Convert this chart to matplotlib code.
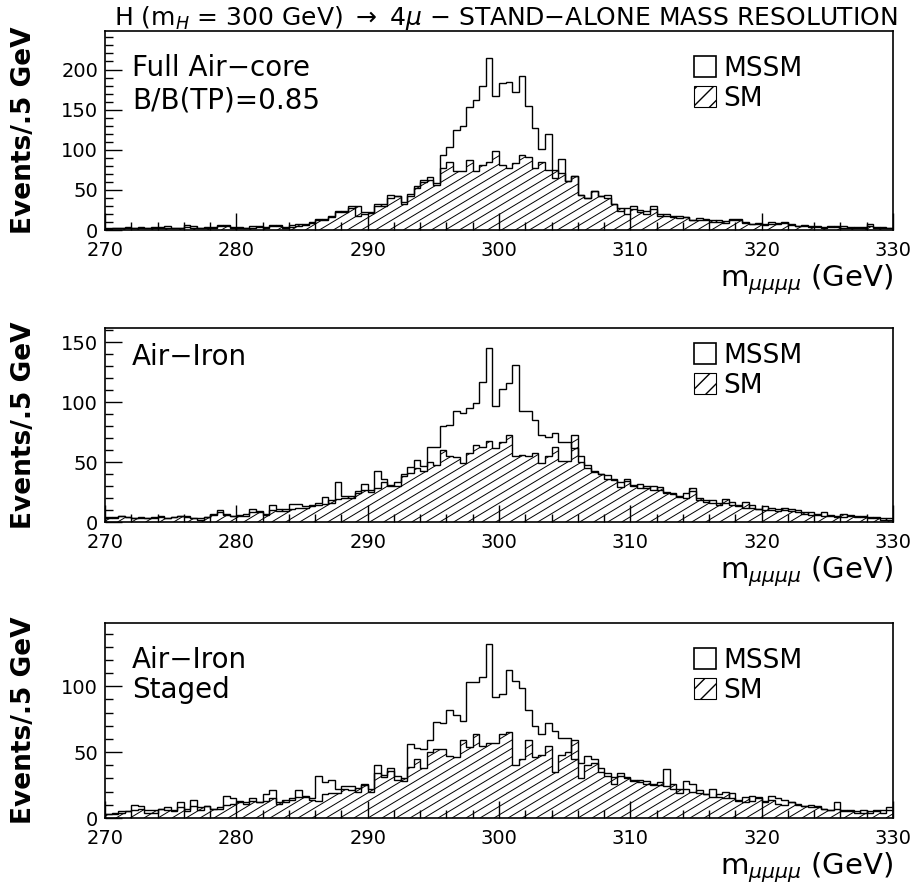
import numpy as np
import matplotlib
matplotlib.use("Agg")
import matplotlib.pyplot as plt
from matplotlib.patches import Patch
from matplotlib.collections import LineCollection
from matplotlib.ticker import MultipleLocator

# bin edges: 270-330 GeV, 0.5 GeV bins
edges = np.arange(270, 330.01, 0.5)

aircore_mssm = [2, 3, 2, 4, 3, 3, 2, 4, 3, 5, 2, 3, 6, 3, 2, 4, 3, 5, 6, 4, 2, 3, 5, 4, 3, 6, 5, 3, 4, 5,
                8, 10, 14, 13, 18, 24, 22, 30, 18, 20, 21, 32, 30, 44, 42, 35, 45, 52, 62, 66, 58,
                93, 103, 124, 129, 153, 162, 180, 214, 167, 183, 185, 172, 192, 154, 127, 101, 120, 65, 88,
                61, 67, 43, 40, 48, 42, 43, 32, 24, 28, 30,
                25, 20, 30, 18, 20, 16, 18, 16, 12, 15, 12, 10, 12, 9, 14, 14, 10, 8, 7, 7, 10, 9, 10, 6,
                5, 6, 5, 4, 4, 5, 4, 5, 3, 4, 4, 8, 3, 4, 3]
aircore_sm = [1, 2, 3, 3, 2, 4, 3, 3, 4, 2, 3, 2, 4, 5, 3, 2, 4, 6, 5, 3, 4, 3, 3, 5, 4, 5, 6, 4, 6, 7,
              6, 9, 12, 14, 16, 22, 24, 28, 30, 22, 22, 30, 33, 40, 42, 33, 42, 55, 60, 62, 56,
              77, 85, 73, 73, 87, 73, 81, 85, 99, 81, 77, 83, 93, 91, 77, 85, 75, 75, 71,
              61, 67, 43, 40, 48, 42, 40, 32, 28, 20, 26,
              22, 24, 26, 20, 18, 18, 15, 16, 13, 12, 14, 12, 10, 11, 12, 13, 9, 8, 9, 6, 8, 8, 9, 7,
              5, 5, 4, 5, 3, 4, 5, 3, 4, 3, 3, 5, 4, 3, 2]

airiron_mssm = [4, 3, 5, 4, 3, 3, 3, 3, 5, 3, 4, 5, 4, 3, 2, 4, 7, 10, 6, 5, 5, 5, 11, 8, 6, 14, 11, 9, 15, 15,
                13, 14, 16, 21, 16, 33, 22, 20, 26, 32, 27, 43, 36, 31, 30,
                40, 46, 52, 47, 63, 63, 80, 81, 93, 91, 95, 99, 117, 145,
                97, 111, 116, 131, 93, 93, 85, 73, 71, 74, 67, 67, 62,
                55, 48, 42, 40, 39, 35, 33, 36, 30, 32,
                28, 30, 27, 24, 23, 21, 20, 26, 18, 17, 18, 14, 16, 17, 14, 12, 14, 11, 10, 12, 11, 10,
                11, 8, 7, 8, 6, 8, 5, 5, 4, 6, 5, 4, 3, 4, 2, 3]
airiron_sm = [3, 4, 5, 4, 3, 4, 3, 4, 4, 3, 4, 5, 5, 3, 3, 4, 6, 8, 7, 5, 6, 7, 8, 9, 7, 10, 9, 11, 11, 12,
              12, 13, 14, 15, 18, 19, 20, 22, 24, 27, 25, 28, 33, 30, 33,
              38, 41, 45, 43, 50, 48, 60, 55, 54, 49, 58, 64, 63, 68,
              62, 67, 73, 55, 56, 55, 58, 49, 55, 63, 51, 51, 73,
              50, 45, 43, 40, 36, 36, 29, 34, 31, 28,
              30, 27, 29, 25, 24, 22, 24, 28, 20, 18, 16, 16, 19, 14, 13, 17, 12, 11, 13, 10, 9, 12,
              9, 10, 8, 6, 7, 5, 6, 4, 7, 5, 4, 5, 4, 3, 3, 2]

staged_mssm = [3, 3, 5, 5, 10, 9, 4, 4, 7, 8, 6, 12, 5, 14, 6, 9, 7, 7, 17, 15, 13, 12, 15, 12, 18, 21, 11, 12, 14, 21,
               17, 15, 32, 27, 29, 22, 24, 24, 20,
               26, 20, 40, 33, 38, 32, 28, 56, 53, 52, 59, 73, 72, 82, 78, 74, 103, 103, 107, 132,
               92, 94, 112, 104, 99, 82, 70, 64, 72, 66, 61, 61, 45, 42, 47, 45, 38, 34, 26, 34, 31, 29,
               27, 26, 25, 25, 37, 22, 19, 28, 26, 19, 18, 22, 16, 15, 19, 13, 12, 17, 16, 13, 17, 15,
               14, 12, 11, 9, 10, 8, 7, 6, 12, 6, 5, 4, 6, 4, 5, 6, 8]
staged_sm = [3, 4, 4, 5, 6, 7, 6, 6, 7, 6, 5, 8, 7, 9, 8, 9, 7, 8, 10, 11, 12, 11, 13, 12, 13, 15, 12, 14, 15, 16,
             16, 14, 13, 18, 19, 19, 22, 21, 23,
             25, 22, 34, 31, 36, 29, 30, 39, 45, 38, 50, 52, 52, 47, 46, 59, 54, 64, 55, 57,
             57, 64, 65, 40, 45, 59, 46, 48, 55, 35, 48, 50, 59, 30, 40, 42, 35, 32, 31, 32, 30, 28,
             29, 28, 26, 27, 24, 26, 22, 22, 20, 21, 18, 16, 18, 20, 15, 14, 16, 13, 15, 12, 14, 11,
             10, 12, 10, 9, 8, 9, 7, 6, 7, 5, 6, 5, 4, 5, 6, 4, 6]

panel_labels = [["Full Air\u2212core", "B/B(TP)=0.85"], ["Air\u2212Iron"], ["Air\u2212Iron", "Staged"]]
ymax = [248, 162, 148]

W, H = 916, 888
fig = plt.figure(figsize=(W / 100, H / 100), dpi=100)

# axes boxes in pixels: top, bottom
boxes = [(31, 230), (328, 522), (623, 818)]
left, right = 105, 893
panels = [(aircore_mssm, aircore_sm), (airiron_mssm, airiron_sm), (staged_mssm, staged_sm)]
label_y = [[0.814, 0.65], [0.85], [0.81, 0.656]]
legend_y = [0.735, 0.78, 0.73]

for k, ((mssm, sm), (top, bot)) in enumerate(zip(panels, boxes)):
    ax = fig.add_axes([left / W, 1 - bot / H, (right - left) / W, (bot - top) / H])
    ax.set_xlim(270, 330)
    ax.set_ylim(0, ymax[k])

    sm_patch = ax.stairs(sm, edges, fill=True, facecolor="none", edgecolor="black", lw=1.0, zorder=3)
    # shallow hatching like the original (drawn as clipped lines)
    wpx, hpx = right - left, bot - top
    slope = 0.6 * wpx / hpx
    step = 14.0 / wpx
    x0s = np.arange(-1.0 / slope - step, 1.0 + step, step)
    segs = [[(x0, 0), (x0 + 1.0 / slope, 1.0)] for x0 in x0s]
    lc = LineCollection(segs, colors="black", linewidths=0.7, transform=ax.transAxes, zorder=2)
    ax.add_collection(lc)
    lc.set_clip_path(sm_patch)
    ax.stairs(mssm, edges, color="black", lw=1.0, zorder=4)

    ax.xaxis.set_major_locator(MultipleLocator(10))
    ax.xaxis.set_minor_locator(MultipleLocator(2))
    ax.yaxis.set_major_locator(MultipleLocator(50))
    ax.yaxis.set_minor_locator(MultipleLocator(10))
    ax.tick_params(which="both", direction="in", top=False, right=False, labelsize=14, width=1.0)
    ax.tick_params(which="major", length=12)
    ax.tick_params(axis="x", which="major", pad=8)
    ax.tick_params(axis="y", which="major", pad=5)
    ax.tick_params(which="minor", length=6)
    for s in ax.spines.values():
        s.set_linewidth(1.2)

    ax.set_ylabel("Events/.5 GeV", fontsize=19, fontweight="bold")
    ax.yaxis.set_label_coords(-0.086, 0.5)
    xl_off = 56.0 / (bot - top)
    ax.text(1.0, -xl_off, r"m$_{\mu\mu\mu\mu}$ (GeV)", transform=ax.transAxes,
            ha="right", va="baseline", fontsize=21)

    for txt, yy in zip(panel_labels[k], label_y[k]):
        ax.text(0.034, yy, txt, transform=ax.transAxes, ha="left", va="center", fontsize=20)

    handles = [Patch(facecolor="white", edgecolor="black", lw=1.2),
               Patch(facecolor="white", edgecolor="black", lw=0.8, hatch="//")]
    ax.legend(handles, ["MSSM", "SM"], loc="center left", bbox_to_anchor=(0.748, legend_y[k]),
              frameon=False, fontsize=19, handlelength=0.8, handleheight=0.8,
              handletextpad=0.3, labelspacing=0.15, borderpad=0, borderaxespad=0)

fig.text(0.552, 0.98, r"H (m$_H$ = 300 GeV) $\rightarrow$ 4$\mu$ $-$ STAND$-$ALONE MASS RESOLUTION",
         ha="center", va="center", fontsize=18)

fig.savefig("out.png", dpi=100)
